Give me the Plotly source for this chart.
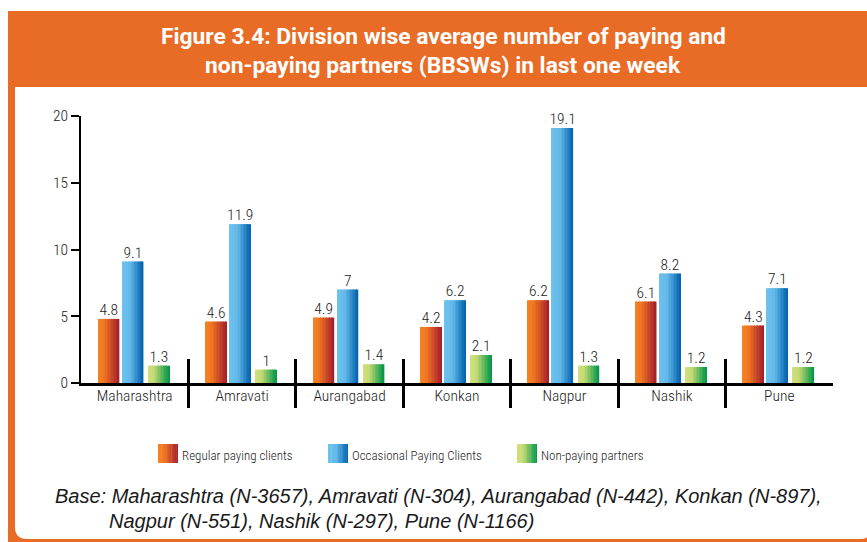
import plotly.graph_objects as go

# ---------------- data ----------------
categories = ["Maharashtra", "Amravati", "Aurangabad", "Konkan", "Nagpur", "Nashik", "Pune"]
regular = [4.8, 4.6, 4.9, 4.2, 6.2, 6.1, 4.3]
occasional = [9.1, 11.9, 7, 6.2, 19.1, 8.2, 7.1]
nonpaying = [1.3, 1, 1.4, 2.1, 1.3, 1.2, 1.2]
series_names = ["Regular paying clients", "Occasional Paying Clients", "Non-paying partners"]
y_ticks = [0, 5, 10, 15, 20]
title_lines = ["Figure 3.4: Division wise average number of paying and",
               "non-paying partners (BBSWs) in last one week"]
base_lines = ["Base: Maharashtra (N-3657), Amravati (N-304), Aurangabad (N-442), Konkan (N-897),",
              "Nagpur (N-551), Nashik (N-297), Pune (N-1166)"]

# ---------------- style ----------------
W, H = 867, 542
L, R, T, B = 81, 833, 116, 383
ORANGE = "rgb(232,108,38)"
NARROW = "'Roboto Condensed Light', 'Roboto Condensed', 'DejaVu Sans Condensed', sans-serif"
TXT = "#222222"

gradients = [
    [(0.0, (246, 132, 32)), (0.3, (240, 118, 35)), (1.0, (163, 31, 45))],
    [(0.0, (110, 194, 237)), (0.4, (98, 184, 232)), (1.0, (0, 97, 172))],
    [(0.0, (208, 224, 126)), (0.3, (196, 218, 115)), (1.0, (0, 150, 72))],
]


def grad_color(stops, t):
    for (t0, c0), (t1, c1) in zip(stops[:-1], stops[1:]):
        if t <= t1:
            f = (t - t0) / (t1 - t0) if t1 > t0 else 0
            c = [round(a + (b - a) * f) for a, b in zip(c0, c1)]
            return "rgb(%d,%d,%d)" % tuple(c)
    return "rgb(%d,%d,%d)" % stops[-1][1]


def px(x):
    return (x - L) / (R - L)


def py(y):
    return (B - y) / (B - T)


series = [regular, occasional, nonpaying]
bar_w = 0.197
offsets = [-0.34, -0.116, 0.127]
N = 14
idx = list(range(len(categories)))

fig = go.Figure()

for s, vals in enumerate(series):
    for k in range(N):
        t = (k + 0.5) / N
        wk = bar_w / N + (0.004 if k < N - 1 else 0)
        fig.add_trace(go.Bar(
            x=idx, y=vals, offset=offsets[s] + k * bar_w / N, width=wk,
            marker=dict(color=grad_color(gradients[s], t), line=dict(width=0)),
            showlegend=False, hoverinfo="skip" if k else "y", name=series_names[s],
        ))
    fig.add_trace(go.Scatter(
        x=[i + offsets[s] + bar_w / 2 for i in idx], y=vals, mode="text",
        text=[f"{v:g}" for v in vals], textposition="top center",
        textfont=dict(family=NARROW, size=15.5, color=TXT),
        cliponaxis=False, showlegend=False, hoverinfo="skip",
    ))

for ax in ["x2", "x3"]:
    fig.add_trace(go.Scatter(x=[0], y=[0], xaxis=ax, yaxis="y", mode="markers",
                             marker=dict(opacity=0), showlegend=False, hoverinfo="skip"))

shapes = []
shapes.append(dict(type="rect", xref="paper", yref="paper", layer="below",
                   x0=px(8), x1=px(880), y0=py(11), y1=py(560),
                   fillcolor=ORANGE, line=dict(width=0)))
r = 12
x0, x1, y0, y1 = 15, 872, 87, 539
path = (f"M {px(x0)},{py(y0)} L {px(x1)},{py(y0)} L {px(x1)},{py(y1 - r)} "
        f"Q {px(x1)},{py(y1)} {px(x1 - r)},{py(y1)} L {px(x0 + r)},{py(y1)} "
        f"Q {px(x0)},{py(y1)} {px(x0)},{py(y1 - r)} Z")
shapes.append(dict(type="path", xref="paper", yref="paper", layer="below", path=path,
                   fillcolor="white", line=dict(width=0)))

leg_sw = [158, 328, 517]
annotations = []
for s in range(3):
    n = 12
    for k in range(n):
        xa = leg_sw[s] + k * 20 / n
        xb = leg_sw[s] + (k + 1) * 20 / n + (0.4 if k < n - 1 else 0)
        shapes.append(dict(type="rect", xref="paper", yref="paper",
                           x0=px(xa), x1=px(xb), y0=py(463), y1=py(444),
                           fillcolor=grad_color(gradients[s], (k + 0.5) / n), line=dict(width=0)))
    annotations.append(dict(xref="paper", yref="paper", x=px(leg_sw[s] + 22), y=py(455),
                            xanchor="left", yanchor="middle", showarrow=False,
                            text=series_names[s],
                            font=dict(family=NARROW, size=13, color=TXT)))

for i, line in enumerate(title_lines):
    annotations.append(dict(xref="paper", yref="paper", x=px(443), y=py(37 + 28 * i),
                            xanchor="center", yanchor="middle", showarrow=False,
                            text=f"<b>{line}</b>",
                            font=dict(family="Roboto, sans-serif", size=22.8, color="white")))

for i, (line, xs) in enumerate(zip(base_lines, [53, 107])):
    annotations.append(dict(xref="paper", yref="paper", x=px(xs), y=py(496 + 25 * i),
                            xanchor="left", yanchor="middle", showarrow=False,
                            text=f"<i>{line}</i>",
                            font=dict(family="Liberation Sans, Arial, sans-serif", size=20,
                                      color="#1a1a1a")))

sep_vals = [i + 0.5 for i in idx[:-1]]
xr = [-0.5, len(categories) - 0.5]

fig.update_layout(
    width=W, height=H,
    margin=dict(l=L, r=W - R, t=T, b=H - B, pad=0),
    paper_bgcolor="white", plot_bgcolor="rgba(0,0,0,0)",
    barmode="overlay", showlegend=False,
    shapes=shapes, annotations=annotations,
    xaxis=dict(range=xr, tickvals=idx, ticktext=categories, ticks="",
               showline=True, linecolor="black", linewidth=2.5, showgrid=False,
               zeroline=False, ticklabelstandoff=-3,
               tickfont=dict(family=NARROW, size=15.5, color=TXT), fixedrange=True),
    xaxis2=dict(range=xr, overlaying="x", anchor="y", side="bottom",
                tickvals=sep_vals, ticks="outside", ticklen=24, tickwidth=2.5,
                tickcolor="black", showticklabels=False, showline=False,
                showgrid=False, zeroline=False),
    xaxis3=dict(range=xr, overlaying="x", anchor="y", side="bottom",
                tickvals=sep_vals, ticks="inside", ticklen=24, tickwidth=2.5,
                tickcolor="black", showticklabels=False, showline=False,
                showgrid=False, zeroline=False),
    yaxis=dict(range=[0, 20], tickvals=y_ticks, ticks="outside", ticklen=8,
               tickwidth=1.5, tickcolor="black", showline=True, linecolor="black",
               linewidth=1.5, showgrid=False, zeroline=False,
               tickfont=dict(family=NARROW, size=15.5, color=TXT)),
)

fig.write_html("out.html", config={"displayModeBar": False},
               post_script="document.body.style.margin='0px';")
